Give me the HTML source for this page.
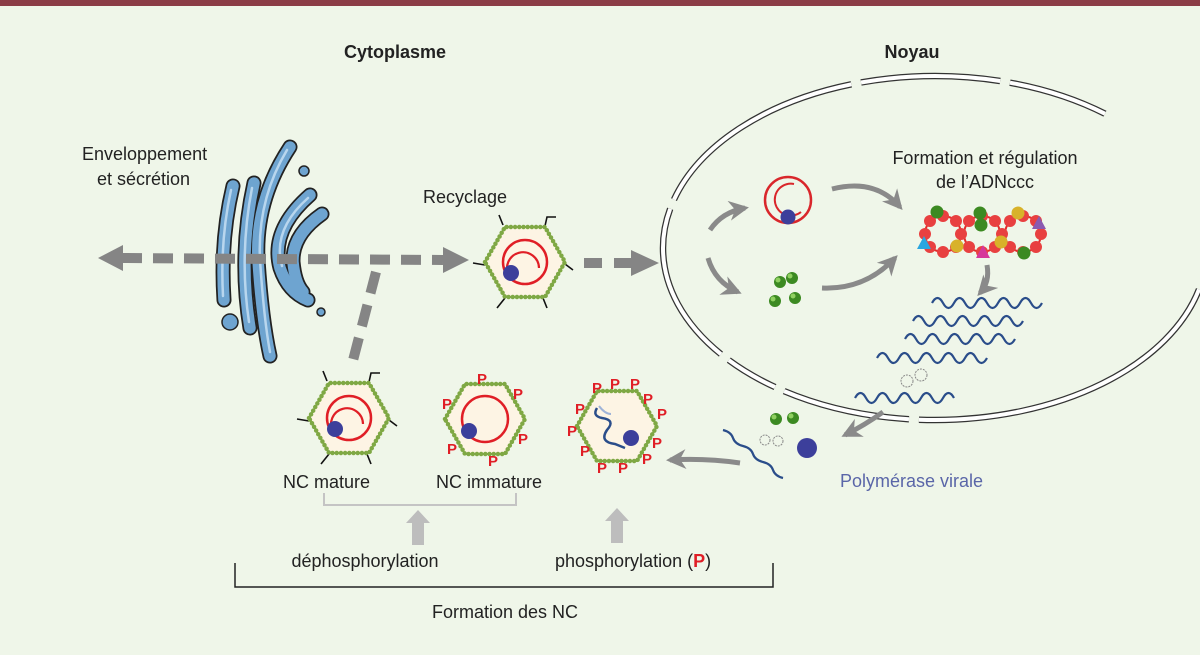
<!DOCTYPE html>
<html><head><meta charset="utf-8"><style>
html,body{margin:0;padding:0;background:#eff6e9;}
svg{display:block;}
text{font-family:"Liberation Sans",sans-serif;font-size:18px;fill:#222;}
</style></head><body>
<svg width="1200" height="655" viewBox="0 0 1200 655" xmlns="http://www.w3.org/2000/svg">
<defs>
<g id="hex">
<polygon points="-40,0 -20,-35 20,-35 40,0 20,35 -20,35" fill="#fdf4e4" stroke="#8fb454" stroke-width="2"/>
<polygon points="-40,0 -20,-35 20,-35 40,0 20,35 -20,35" fill="none" stroke="#7fa844" stroke-width="4.5" stroke-dasharray="0 4.2" stroke-linecap="round"/>
</g>
<g id="spikes" stroke="#111" stroke-width="1.6" fill="none">
<path d="M-22,-37 l-4,-10"/><path d="M20,-36 l2,-9 h9"/><path d="M40,2 l8,6"/><path d="M-40,3 l-12,-2"/><path d="M18,36 l4,10"/><path d="M-20,36 l-8,10"/>
</g>
<marker id="ah" viewBox="0 0 10 10" refX="8" refY="5" markerWidth="4" markerHeight="4" orient="auto"><path d="M0,0 L10,5 L0,10 L3,5z" fill="#8a8a8a"/></marker>
</defs>
<rect x="0" y="0" width="1200" height="6" fill="#8b3d46"/>

<text x="395" y="58" text-anchor="middle" font-weight="bold">Cytoplasme</text>
<text x="912" y="58" text-anchor="middle" font-weight="bold">Noyau</text>

<!-- nucleus -->
<g fill="none" stroke-dasharray="0 3 23.15 .7 9.1 .7 3.8 .7 11.7 .7 15.5 .7 9.9 .7 7.1 12.55">
<ellipse cx="935" cy="248" rx="272" ry="172" pathLength="100" stroke="#333" stroke-width="6.5"/>
<ellipse cx="935" cy="248" rx="272" ry="172" pathLength="100" stroke="#fff" stroke-width="4"/>
</g>

<!-- Golgi -->
<g fill="none" stroke-linecap="round">
<g stroke="#222" stroke-width="15">
<path d="M233,186 Q220,240 224,300"/><path d="M254,183 Q238,255 250,328"/><path d="M290,147 Q255,200 258,260 Q262,320 270,356"/><path d="M310,195 Q270,230 280,268 Q288,292 308,300"/><path d="M322,214 Q292,235 293,262 Q295,283 303,292"/>
</g>
<g stroke="#6ea4d0" stroke-width="11.5">
<path d="M233,186 Q220,240 224,300"/><path d="M254,183 Q238,255 250,328"/><path d="M290,147 Q255,200 258,260 Q262,320 270,356"/><path d="M310,195 Q270,230 280,268 Q288,292 308,300"/><path d="M322,214 Q292,235 293,262 Q295,283 303,292"/>
</g>
<g stroke="#b8d6ee" stroke-width="2.5">
<path d="M231,190 Q220,240 223,296"/><path d="M287,150 Q257,200 260,260 Q264,320 270,352"/><path d="M308,198 Q272,230 282,266"/><path d="M252,188 Q239,255 249,322"/>
</g>
</g>
<g fill="#6ea4d0" stroke="#222" stroke-width="1.5"><circle cx="304" cy="171" r="5"/><circle cx="321" cy="312" r="4"/><circle cx="230" cy="322" r="8"/></g>

<!-- dashed arrows -->
<g stroke="#858585" stroke-width="10" fill="none">
<line x1="122" y1="258" x2="443" y2="260" stroke-dasharray="20 11"/>
<line x1="584" y1="263" x2="631" y2="263" stroke-dasharray="18 12"/>
<line x1="376" y1="272" x2="351" y2="368" stroke-dasharray="22 12"/>
</g>
<g fill="#858585">
<polygon points="98,258 123,245 123,271"/>
<polygon points="469,260 443,247 443,273"/>
<polygon points="659,263 631,250 631,276"/>
</g>

<text x="82" y="160" font-size="19">Enveloppement</text>
<text x="97" y="185" font-size="19">et sécrétion</text>
<text x="423" y="203" font-size="19">Recyclage</text>

<!-- recyclage capsid -->
<g transform="translate(525,262)">
<use href="#spikes"/><use href="#hex"/>
<circle cx="0" cy="0" r="22" fill="none" stroke="#e01e26" stroke-width="2.5"/>
<path d="M-16,14 A16,16 0 1 1 14,6" fill="none" stroke="#e01e26" stroke-width="2.2"/>
<circle cx="-14" cy="11" r="8" fill="#3c3f9b"/>
</g>
<!-- mature -->
<g transform="translate(349,418)">
<use href="#spikes"/><use href="#hex"/>
<circle cx="0" cy="0" r="22" fill="none" stroke="#e01e26" stroke-width="2.5"/>
<path d="M-16,14 A16,16 0 1 1 14,6" fill="none" stroke="#e01e26" stroke-width="2.2"/>
<circle cx="-14" cy="11" r="8" fill="#3c3f9b"/>
</g>
<!-- immature -->
<g transform="translate(485,419)">
<use href="#hex"/>
<circle cx="0" cy="0" r="23" fill="none" stroke="#e01e26" stroke-width="2.5"/>
<circle cx="-16" cy="12" r="8" fill="#3c3f9b"/>
</g>
<g>
<text x="477" y="384" style="fill:#e01e26;font-size:15px;font-weight:bold">P</text>
<text x="513" y="399" style="fill:#e01e26;font-size:15px;font-weight:bold">P</text>
<text x="442" y="409" style="fill:#e01e26;font-size:15px;font-weight:bold">P</text>
<text x="518" y="444" style="fill:#e01e26;font-size:15px;font-weight:bold">P</text>
<text x="447" y="454" style="fill:#e01e26;font-size:15px;font-weight:bold">P</text>
<text x="488" y="466" style="fill:#e01e26;font-size:15px;font-weight:bold">P</text>
</g>
<!-- third capsid -->
<g transform="translate(617,426)">
<use href="#hex"/>
<path d="M-20,-18 q-5,8 5,10 q14,2 5,12 q-8,12 8,14 l10,4" fill="none" stroke="#2a4d8a" stroke-width="2.5"/>
<path d="M-18,-20 q6,8 12,8" fill="none" stroke="#9fb3d8" stroke-width="2"/>
<circle cx="14" cy="12" r="8" fill="#3c3f9b"/>
</g>
<g>
<text x="592" y="393" style="fill:#e01e26;font-size:15px;font-weight:bold">P</text>
<text x="610" y="389" style="fill:#e01e26;font-size:15px;font-weight:bold">P</text>
<text x="630" y="389" style="fill:#e01e26;font-size:15px;font-weight:bold">P</text>
<text x="643" y="404" style="fill:#e01e26;font-size:15px;font-weight:bold">P</text>
<text x="657" y="419" style="fill:#e01e26;font-size:15px;font-weight:bold">P</text>
<text x="575" y="414" style="fill:#e01e26;font-size:15px;font-weight:bold">P</text>
<text x="567" y="436" style="fill:#e01e26;font-size:15px;font-weight:bold">P</text>
<text x="652" y="448" style="fill:#e01e26;font-size:15px;font-weight:bold">P</text>
<text x="580" y="456" style="fill:#e01e26;font-size:15px;font-weight:bold">P</text>
<text x="642" y="464" style="fill:#e01e26;font-size:15px;font-weight:bold">P</text>
<text x="597" y="473" style="fill:#e01e26;font-size:15px;font-weight:bold">P</text>
<text x="618" y="473" style="fill:#e01e26;font-size:15px;font-weight:bold">P</text>
</g>

<text x="283" y="488" font-size="19">NC mature</text>
<text x="436" y="488" font-size="19">NC immature</text>

<!-- brackets -->
<path d="M324,493 V505 H516 V493" fill="none" stroke="#c4c4c4" stroke-width="2"/>
<g fill="#bdbdbd">
<polygon points="418,510 430,523 424,523 424,545 412,545 412,523 406,523"/>
<polygon points="617,508 629,521 623,521 623,543 611,543 611,521 605,521"/>
</g>
<text x="365" y="567" text-anchor="middle" font-size="19">déphosphorylation</text>
<text x="555" y="567" font-size="19">phosphorylation (<tspan style="fill:#e01e26;font-weight:bold">P</tspan>)</text>
<path d="M235,563 V587 H773 V563" fill="none" stroke="#222" stroke-width="1.5"/>
<text x="505" y="618" text-anchor="middle" font-size="19">Formation des NC</text>

<!-- nucleus contents -->
<g fill="none" stroke="#8a8a8a" stroke-width="5" marker-end="url(#ah)">
<path d="M710,230 Q722,212 745,208"/>
<path d="M708,258 Q715,282 738,292"/>
<path d="M832,189 Q875,178 900,207"/>
<path d="M822,288 Q865,290 895,258"/>
<path d="M987,265 Q990,282 980,293"/>
<path d="M883,412 Q865,425 845,435"/>
<path d="M740,463 Q705,458 670,460"/>
</g>
<circle cx="788" cy="200" r="23" fill="none" stroke="#d9262b" stroke-width="2.5"/>
<path d="M801,212 A16,16 0 1 1 794,184" fill="none" stroke="#d9262b" stroke-width="2"/>
<circle cx="788" cy="217" r="7.5" fill="#3c3f9b"/>
<g fill="#3c8a22"><circle cx="780" cy="282" r="6"/><circle cx="792" cy="278" r="6"/><circle cx="775" cy="301" r="6"/><circle cx="795" cy="298" r="6"/><circle cx="776" cy="419" r="6"/><circle cx="793" cy="418" r="6"/></g>
<g fill="#8fd060"><circle cx="778" cy="280" r="2.5"/><circle cx="790" cy="276" r="2.5"/><circle cx="773" cy="299" r="2.5"/><circle cx="793" cy="296" r="2.5"/><circle cx="774" cy="417" r="2.5"/><circle cx="791" cy="416" r="2.5"/></g>
<circle cx="807" cy="448" r="10" fill="#3c3f9b"/>

<!-- cccDNA -->
<g fill="none" stroke="#e22b2b" stroke-width="2"><ellipse cx="943" cy="234" rx="18" ry="18"/><ellipse cx="982" cy="234" rx="18" ry="18"/><ellipse cx="1023" cy="234" rx="18" ry="18"/></g>
<g fill="#e84040">
<circle cx="961" cy="234" r="6"/><circle cx="956" cy="221" r="6"/><circle cx="943" cy="216" r="6"/><circle cx="930" cy="221" r="6"/><circle cx="925" cy="234" r="6"/><circle cx="930" cy="247" r="6"/><circle cx="943" cy="252" r="6"/><circle cx="956" cy="247" r="6"/>
<circle cx="995" cy="221" r="6"/><circle cx="982" cy="216" r="6"/><circle cx="969" cy="221" r="6"/><circle cx="969" cy="247" r="6"/><circle cx="982" cy="252" r="6"/><circle cx="995" cy="247" r="6"/><circle cx="1002" cy="234" r="6"/>
<circle cx="1041" cy="234" r="6"/><circle cx="1036" cy="221" r="6"/><circle cx="1023" cy="216" r="6"/><circle cx="1010" cy="221" r="6"/><circle cx="1010" cy="247" r="6"/><circle cx="1023" cy="252" r="6"/><circle cx="1036" cy="247" r="6"/>
</g>
<g fill="#3c8a22"><circle cx="937" cy="212" r="6.5"/><circle cx="980" cy="213" r="6.5"/><circle cx="981" cy="225" r="6.5"/><circle cx="1024" cy="253" r="6.5"/></g>
<g fill="#d8b22a"><circle cx="957" cy="246" r="6.5"/><circle cx="1001" cy="242" r="6.5"/><circle cx="1018" cy="213" r="6.5"/></g>
<polygon points="924,236 931,249 917,249" fill="#2aa6e0"/>
<polygon points="983,245 990,258 976,258" fill="#d6369a"/>
<polygon points="1039,216 1046,229 1032,229" fill="#8a5ab0"/>
<text x="985" y="164" text-anchor="middle" font-size="19">Formation et régulation</text>
<text x="985" y="188" text-anchor="middle" font-size="19">de l’ADNccc</text>

<!-- RNAs -->
<g fill="none" stroke="#2a4d8a" stroke-width="2.2">
<path d="M932,303 q5.5,-10 11,0 t11,0 t11,0 t11,0 t11,0 t11,0 t11,0 t11,0 t11,0 t11,0"/>
<path d="M913,321 q5.5,-10 11,0 t11,0 t11,0 t11,0 t11,0 t11,0 t11,0 t11,0 t11,0 t11,0"/>
<path d="M905,339 q5.5,-10 11,0 t11,0 t11,0 t11,0 t11,0 t11,0 t11,0 t11,0 t11,0 t11,0"/>
<path d="M877,358 q5.5,-10 11,0 t11,0 t11,0 t11,0 t11,0 t11,0 t11,0 t11,0 t11,0 t11,0"/>
<path d="M855,398 q5.5,-10 11,0 t11,0 t11,0 t11,0 t11,0 t11,0 t11,0 t11,0 t11,0"/>
<path d="M723,430 q8,2 10,8 t10,8 t10,8 t10,8 t10,8 t10,8"/>
</g>
<g fill="none" stroke="#888" stroke-width="1" stroke-dasharray="2 1"><circle cx="907" cy="381" r="6"/><circle cx="921" cy="375" r="6"/><circle cx="765" cy="440" r="5"/><circle cx="778" cy="441" r="5"/></g>

<text x="840" y="487" font-size="19" style="fill:#5a66a8">Polymérase virale</text>
</svg>
</body></html>
